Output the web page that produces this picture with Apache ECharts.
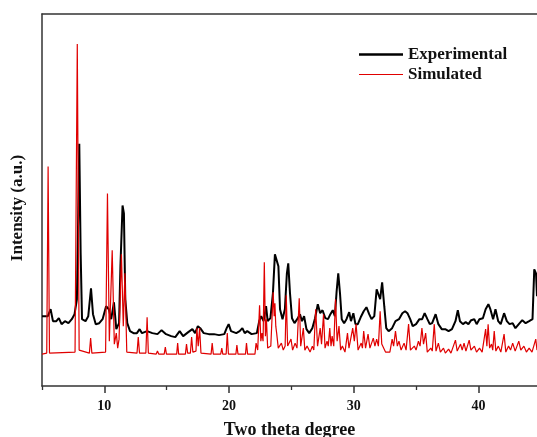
<!DOCTYPE html>
<html>
<head>
<meta charset="utf-8">
<script src="https://cdn.jsdelivr.net/npm/echarts@6/dist/echarts.min.js"></script>
<style>html,body{margin:0;padding:0;background:#fff}#c{width:537px;height:437px}</style>
</head>
<body>
<div id="c"></div>
<script>
// Tick labels / categories
var majorTicks = [10, 20, 30, 40];
var minorTicks = [5, 15, 25, 35];
var seriesNames = ['Experimental', 'Simulated'];

// Experimental pattern [2theta, intensity (a.u.)]
var experimental = [
[5.0,70],[5.47,70],[5.69,77],[5.88,65],[6.15,65],[6.35,68],[6.57,62],[6.84,65],[7.12,63],[7.39,67],
[7.61,72],[7.80,87],[7.99,243],[8.10,133],[8.21,67],[8.49,65],[8.71,70],[8.93,98],[9.09,72],[9.31,62],
[9.59,63],[9.86,67],[10.14,80],[10.36,77],[10.55,67],[10.77,84],[10.96,57],[11.18,63],[11.29,120],[11.46,181],
[11.57,173],[11.68,87],[11.84,63],[12.06,55],[12.34,53],[12.61,53],[12.83,57],[13.02,53],[13.43,55],[13.85,53],
[14.26,52],[14.59,56],[14.95,52],[15.36,50],[15.69,49],[16.04,55],[16.32,50],[16.73,54],[17.06,57],[17.28,53],
[17.50,60],[17.69,58],[17.97,53],[18.38,52],[18.79,52],[19.20,51],[19.62,52],[19.81,58],[19.97,62],[20.16,55],
[20.58,53],[20.85,55],[21.07,58],[21.26,53],[21.46,55],[21.81,52],[22.23,53],[22.42,65],[22.58,70],[22.77,65],
[22.97,80],[23.10,65],[23.32,68],[23.52,93],[23.68,132],[23.82,134],[23.96,120],[24.09,77],[24.29,67],[24.48,77],
[24.64,113],[24.75,123],[24.89,93],[25.05,68],[25.25,63],[25.47,67],[25.69,72],[25.85,65],[26.02,70],[26.21,57],
[26.43,53],[26.68,58],[26.90,68],[27.12,82],[27.31,73],[27.50,76],[27.72,68],[27.94,67],[28.13,72],[28.32,76],
[28.49,70],[28.63,95],[28.76,113],[28.90,93],[29.04,67],[29.23,63],[29.42,67],[29.64,74],[29.78,65],[29.97,73],
[30.14,62],[30.33,62],[30.60,70],[30.80,75],[31.02,79],[31.24,72],[31.43,67],[31.65,70],[31.84,97],[31.98,99],
[32.12,87],[32.28,104],[32.45,80],[32.61,58],[32.80,55],[33.08,58],[33.35,65],[33.63,67],[33.90,73],[34.12,75],
[34.31,73],[34.53,67],[34.73,60],[35.00,62],[35.27,67],[35.49,67],[35.69,73],[35.91,67],[36.10,62],[36.29,63],
[36.57,72],[36.79,62],[37.06,57],[37.34,57],[37.61,55],[37.88,57],[38.16,65],[38.35,76],[38.52,65],[38.76,62],
[38.98,64],[39.20,62],[39.42,66],[39.67,67],[39.86,62],[40.08,67],[40.36,68],[40.58,77],[40.80,82],[40.96,77],
[41.18,67],[41.37,77],[41.59,65],[41.79,62],[42.06,73],[42.28,65],[42.50,62],[42.75,63],[42.97,58],[43.24,62],
[43.52,66],[43.79,63],[44.07,65],[44.34,67],[44.48,117],[44.62,113],[44.7,90]
];

// Simulated pattern [2theta, intensity (a.u.)]
var simulated = [
[5.0,32],[5.38,33],[5.49,220],[5.6,33],
[7.65,34],[7.83,343],[7.98,36],[8.8,33],[8.9,48],[9.0,33],
[10.1,34],[10.25,193],[10.4,45],[10.63,136],[10.8,42],[10.96,53],[11.07,38],[11.18,47],[11.27,45],[11.37,132],[11.52,60],[11.65,113],[11.8,34],
[12.62,33],[12.72,49],[12.82,33],[13.33,33],[13.43,69],[13.53,33],[14.16,32],[14.26,35],[14.36,32],[14.8,32],[14.89,39],[14.98,32],
[15.8,32],[15.88,43],[15.96,32],[16.5,32],[16.59,42],[16.68,33],[16.9,33],[17.0,49],[17.1,34],[17.35,35],[17.42,58],[17.53,40],[17.64,58],[17.75,33],
[18.56,32],[18.65,43],[18.74,32],[19.33,32],[19.42,38],[19.5,32],[19.77,32],[19.86,53],[19.95,32],[20.55,32],[20.63,41],[20.72,32],
[21.32,32],[21.4,43],[21.49,32],[22.08,32],[22.17,43],[22.3,36],[22.45,81],[22.55,45],[22.64,53],[22.73,45],[22.83,124],[22.92,50],[23.0,67],[23.1,38],
[23.35,40],[23.54,94],[23.62,70],[23.68,83],[23.75,60],[23.82,53],[23.95,38],[24.2,43],[24.35,36],[24.5,40],[24.59,91],[24.7,40],
[24.97,47],[25.1,36],[25.3,43],[25.45,38],[25.63,88],[25.75,40],[25.96,58],[26.08,36],[26.26,40],[26.5,34],[26.68,40],[26.8,36],
[26.95,77],[27.1,40],[27.31,58],[27.42,42],[27.58,72],[27.7,38],[27.86,45],[27.96,40],[28.08,58],[28.18,40],[28.27,50],[28.4,40],
[28.54,87],[28.67,45],[28.82,60],[28.95,36],[29.09,40],[29.3,34],[29.5,53],[29.62,38],[29.92,58],[30.05,45],[30.19,62],[30.35,36],
[30.6,43],[30.7,38],[30.8,55],[30.95,38],[31.15,52],[31.3,38],[31.57,48],[31.7,40],[31.84,47],[31.98,40],[32.12,75],[32.25,42],
[32.39,43],[32.55,34],[32.9,34],[33.08,47],[33.2,40],[33.35,55],[33.5,40],[33.63,45],[33.8,36],[34.04,43],[34.2,36],[34.4,62],
[34.55,36],[34.86,40],[35.0,36],[35.19,45],[35.32,40],[35.47,58],[35.6,42],[35.77,53],[35.9,34],[36.18,38],[36.3,35],[36.46,62],
[36.6,35],[36.79,43],[36.95,34],[37.2,38],[37.35,33],[37.61,37],[37.8,33],[38.16,46],[38.3,35],[38.57,42],[38.7,36],[38.85,43],
[39.0,35],[39.26,46],[39.4,36],[39.68,40],[39.85,34],[40.09,38],[40.3,34],[40.58,57],[40.68,40],[40.78,62],[40.9,38],[41.05,42],
[41.15,36],[41.27,55],[41.4,35],[41.6,40],[41.8,34],[42.06,52],[42.2,34],[42.42,40],[42.58,36],[42.75,43],[42.95,35],[43.24,45],
[43.4,36],[43.65,40],[43.85,34],[44.07,38],[44.3,34],[44.6,47],[44.7,36]
];

var FONT = '"Liberation Serif", "Times New Roman", serif';
var AX = '#333';
var xMin = 5, xMax = 44.7;

var chart = echarts.init(document.getElementById('c'), null, {renderer: 'canvas'});
chart.setOption({
  animation: false,
  backgroundColor: '#fff',
  grid: {left: 42, right: 0, top: 14, bottom: 51, containLabel: false, outerBoundsMode: 'none'},
  legend: {
    orient: 'vertical', left: 354, top: 41, itemWidth: 44, itemHeight: 14, itemGap: 3,
    textStyle: {fontFamily: FONT, fontWeight: 'bold', fontSize: 17, color: '#111'},
    data: [{name: seriesNames[0], icon: 'path://M0,5.8H44V8.2H0Z'}, {name: seriesNames[1], icon: 'path://M0,6.4H44V7.6H0Z'}]
  },
  xAxis: [
    {
      type: 'value', position: 'bottom', min: xMin, max: xMax,
      name: 'Two theta degree', nameLocation: 'middle', nameGap: 35,
      nameTextStyle: {fontFamily: FONT, fontWeight: 'bold', fontSize: 18, color: '#111'},
      axisLine: {show: true, lineStyle: {color: AX, width: 1.5}},
      axisTick: {show: true, inside: false, length: 7, lineStyle: {color: AX, width: 1.5}, customValues: majorTicks},
      axisLabel: {show: true, margin: 13, fontFamily: FONT, fontWeight: 'bold', fontSize: 14, color: '#111', customValues: majorTicks},
      splitLine: {show: false}
    },
    {
      type: 'value', position: 'bottom', min: xMin, max: xMax, offset: 0,
      axisLine: {show: false},
      axisTick: {show: true, inside: false, length: 4, lineStyle: {color: AX, width: 1.3}, customValues: minorTicks},
      axisLabel: {show: false},
      splitLine: {show: false}
    },
    {
      type: 'value', position: 'top', min: xMin, max: xMax,
      axisLine: {show: true, lineStyle: {color: AX, width: 1.5}},
      axisTick: {show: false}, axisLabel: {show: false}, splitLine: {show: false}
    }
  ],
  yAxis: [{
    type: 'value', min: 0, max: 373,
    name: 'Intensity (a.u.)', nameLocation: 'middle', nameGap: 16,
    nameTextStyle: {fontFamily: FONT, fontWeight: 'bold', fontSize: 17, color: '#111', padding: [0, 16, 0, 0]},
    axisLine: {show: true, lineStyle: {color: AX, width: 1.5}},
    axisTick: {show: false}, axisLabel: {show: false}, splitLine: {show: false}
  }],
  series: [
    {
      name: seriesNames[0], type: 'line', data: experimental, xAxisIndex: 0, yAxisIndex: 0,
      symbol: 'none', showSymbol: false, smooth: false, z: 2,
      lineStyle: {color: '#000', width: 2}, itemStyle: {color: '#000'}
    },
    {
      name: seriesNames[1], type: 'line', data: simulated, xAxisIndex: 0, yAxisIndex: 0,
      symbol: 'none', showSymbol: false, smooth: false, z: 3,
      lineStyle: {color: '#e00000', width: 1.2}, itemStyle: {color: '#e00000'}
    }
  ]
});
</script>
</body>
</html>
